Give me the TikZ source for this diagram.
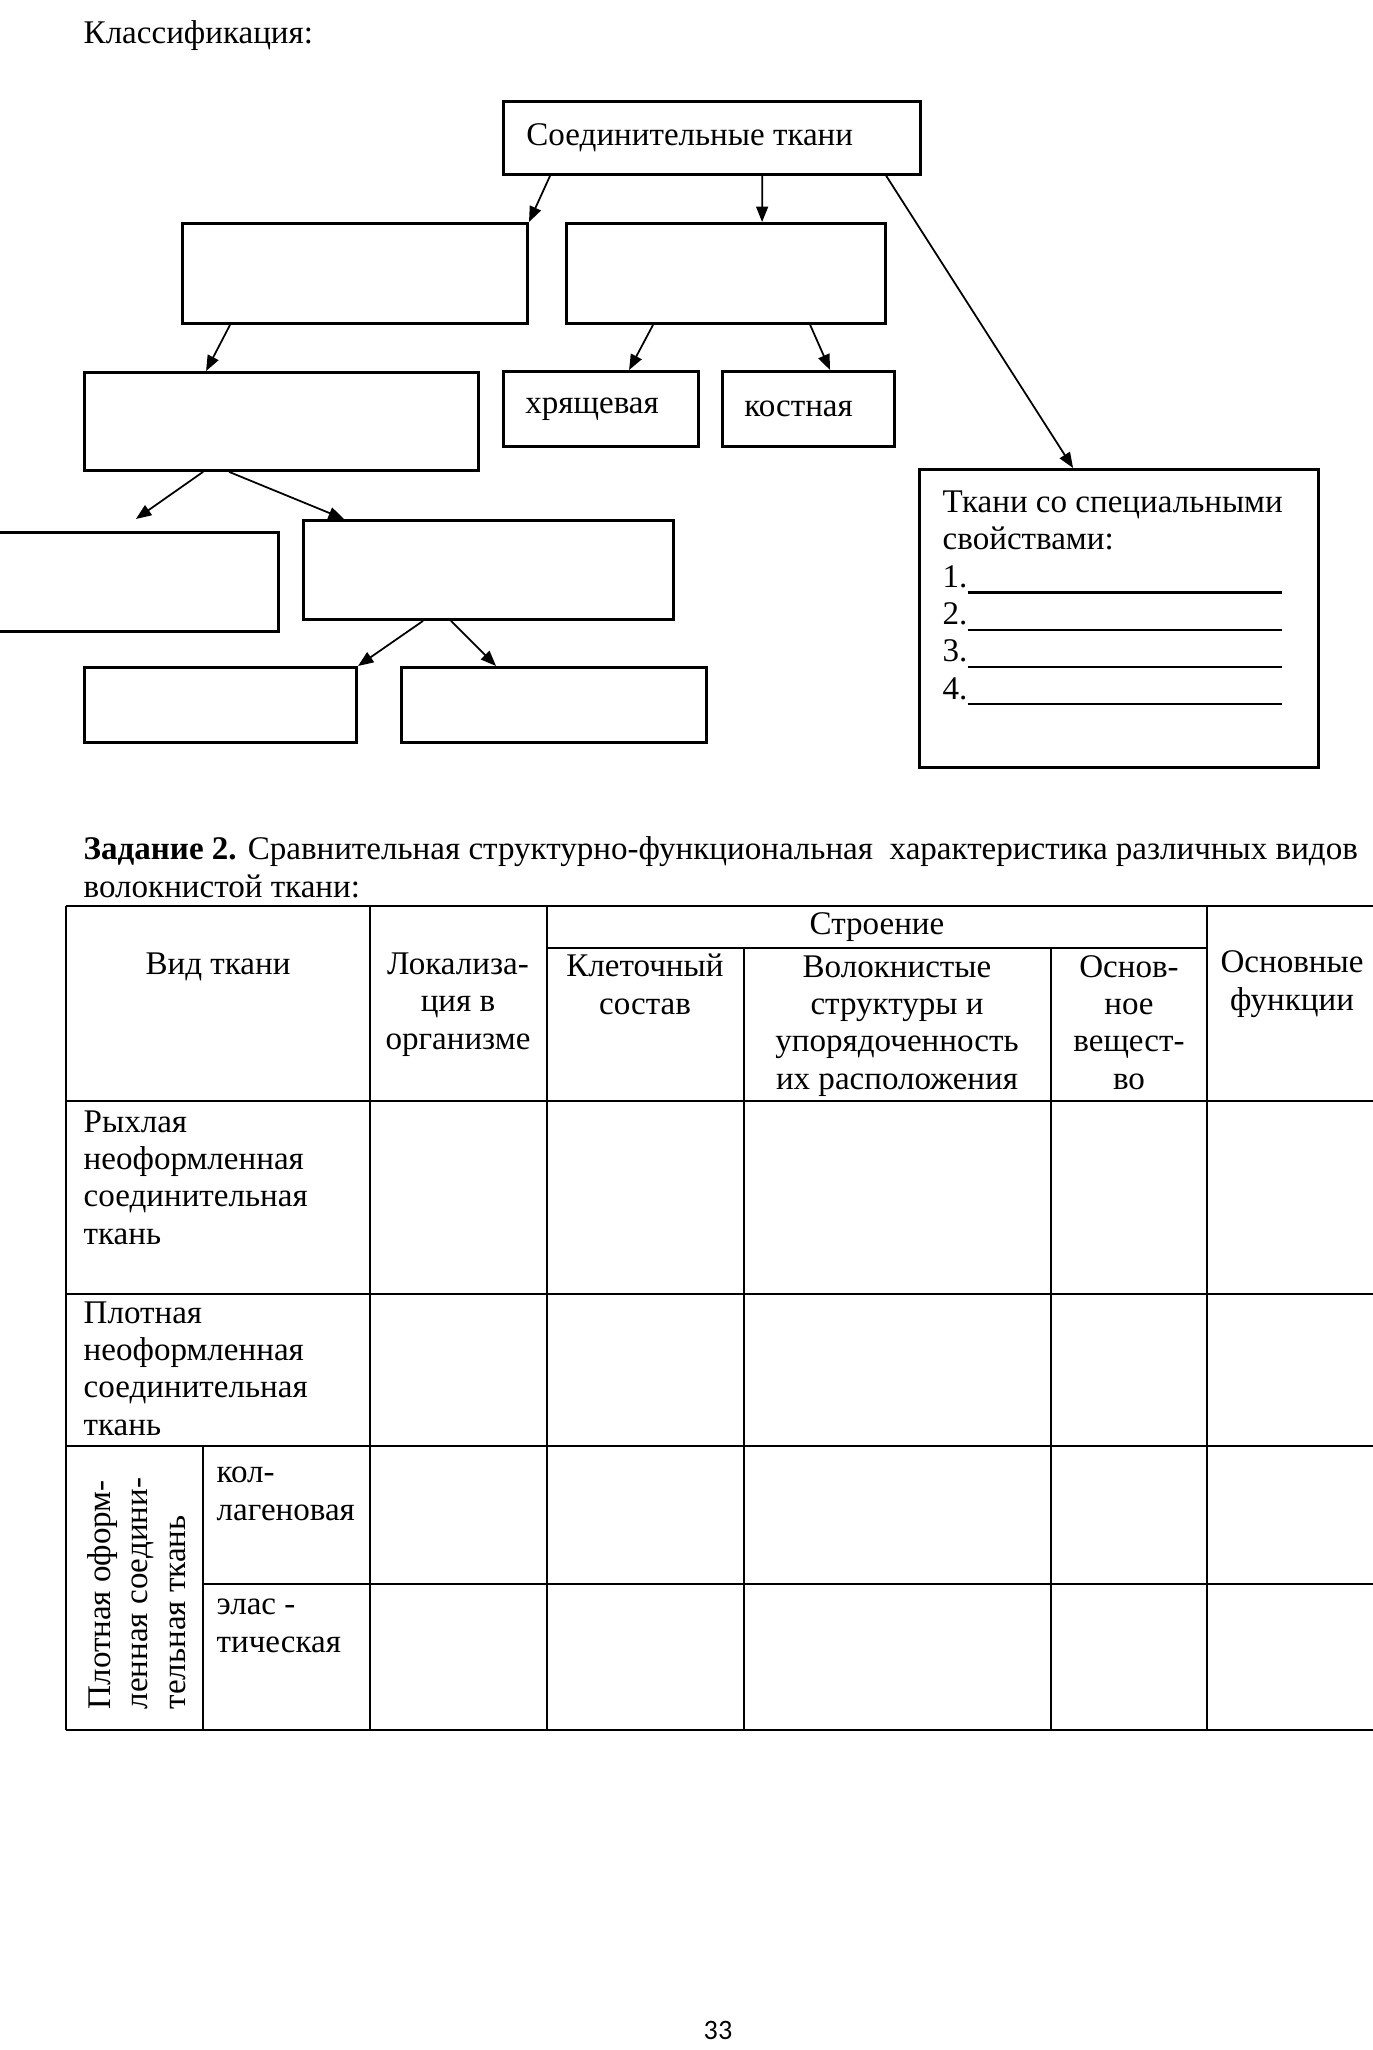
\documentclass[tikz,border=0pt]{standalone}
\usepackage{fontspec}
\setmainfont{Liberation Serif}
\newfontfamily\pagenumfont{Carlito}
\usetikzlibrary{positioning,calc}
\usetikzlibrary{arrows.meta}
\tikzset{
  box/.style={draw=black,line width=0.8pt,anchor=north west,inner sep=0pt},
  edge/.style={draw=black,line width=0.5pt,-{Triangle[length=4.4pt,width=3.4pt]}},
  grid/.style={draw=black,line width=0.6pt},
  txt/.style={inner sep=0pt,font=\fontsize{9.4}{10.6}\selectfont},
}
\begin{document}
\begin{tikzpicture}[x=0.01cm,y=-0.01cm]
\useasboundingbox (0,0) rectangle (1373,2050);
\clip (0,0) rectangle (1373,2050);
\coordinate (p1) at (502,100);
\coordinate (p2) at (181,222);
\coordinate (p3) at (565,222);
\coordinate (p4) at (83,371);
\coordinate (p5) at (502,370);
\coordinate (p6) at (721,370);
\coordinate (p7) at (918,468);
\coordinate (p8) at (-20,531);
\coordinate (p9) at (302,519);
\coordinate (p10) at (83,666);
\coordinate (p11) at (400,666);
\node[txt,anchor=base west] (title) at (83,43) {Классификация:};
\node[box,txt,text width=3.71cm,align=flush left,inner xsep=0.23cm,minimum height=0.73cm] (root) at (p1) {Соединительные ткани};
\node[box,minimum width=3.45cm,minimum height=1.0cm] (boxA) at (p2) {};
\node[box,minimum width=3.19cm,minimum height=1.0cm] (boxB) at (p3) {};
\node[box,minimum width=3.94cm,minimum height=0.98cm] (boxC) at (p4) {};
\node[box,txt,text width=1.51cm,align=flush left,inner xsep=0.22cm,minimum height=0.75cm] (cart) at (p5) {хрящевая};
\node[box,txt,text width=1.28cm,align=flush left,inner xsep=0.22cm,minimum height=0.75cm] (bone) at (p6) {костная};
\node[box,minimum width=3.99cm,minimum height=2.98cm] (spec) at (p7) {};
\node[txt,anchor=base west,align=left] (spectxt) at (942,699) {Ткани со специальными\\свойствами:\\1.\rule[-1.8pt]{3.14cm}{0.6pt}\\2.\rule[-1.8pt]{3.14cm}{0.6pt}\\3.\rule[-1.8pt]{3.14cm}{0.6pt}\\4.\rule[-1.8pt]{3.14cm}{0.6pt}};
\node[box,minimum width=2.97cm,minimum height=0.99cm] (boxD) at (p8) {};
\node[box,minimum width=3.70cm,minimum height=0.99cm] (boxE) at (p9) {};
\node[box,minimum width=2.72cm,minimum height=0.75cm] (boxF) at (p10) {};
\node[box,minimum width=3.05cm,minimum height=0.75cm] (boxG) at (p11) {};
\draw[edge] ([xshift=0.48cm]root.south west) -- (boxA.north east);
\draw[edge] ([xshift=2.60cm]root.south west) -- ([xshift=1.97cm]boxB.north west);
\draw[edge] ([xshift=3.84cm]root.south west) -- ([xshift=1.55cm]spec.north west);
\draw[edge] ([xshift=0.49cm]boxA.south west) -- ([xshift=1.23cm]boxC.north west);
\draw[edge] ([xshift=0.88cm]boxB.south west) -- ([xshift=1.27cm]cart.north west);
\draw[edge] ([xshift=2.45cm]boxB.south west) -- ([xshift=1.09cm]bone.north west);
\draw[edge] ([xshift=1.20cm]boxC.south west) -- ([xshift=-1.44cm,yshift=0.12cm]boxD.north east);
\draw[edge] ([xshift=1.46cm]boxC.south west) -- ([xshift=0.42cm]boxE.north west);
\draw[edge] ([xshift=1.21cm]boxE.south west) -- (boxF.north east);
\draw[edge] ([xshift=1.49cm]boxE.south west) -- ([xshift=0.96cm]boxG.north west);
\node[txt,anchor=base west,align=left] (task) at (83,897) {\textbf{Задание 2.} Сравнительная структурно-функциональная\ \ характеристика различных видов\\волокнистой ткани:};
\foreach \y in {906,1101,1294,1446,1730} \draw[grid] (66,\y) -- (1380,\y);
\draw[grid] (547,948) -- (1207,948);
\draw[grid] (203,1584) -- (1380,1584);
\foreach \x in {66,370,547,1207} \draw[grid] (\x,906) -- (\x,1730);
\foreach \x in {744,1051} \draw[grid] (\x,948) -- (\x,1730);
\draw[grid] (203,1446) -- (203,1730);
\node[txt,anchor=base] (vid) at (218,974) {Вид ткани};
\node[txt,anchor=base,align=center] (loc) at (458,1049) {Локализа-\\ция в\\организме};
\node[txt,anchor=base] (build) at (877,934) {Строение};
\node[txt,anchor=base,align=center] (cell) at (645,1014) {Клеточный\\состав};
\node[txt,anchor=base,align=center] (fib) at (897,1089) {Волокнистые\\структуры и\\упорядоченность\\их расположения};
\node[txt,anchor=base,align=center] (subst) at (1129,1089) {Основ-\\ное\\вещест-\\во};
\node[txt,anchor=base,align=center] (func) at (1292,1010) {Основные\\функции};
\node[txt,anchor=base west,align=left] (loose) at (83,1244) {Рыхлая\\неоформленная\\соединительная\\ткань};
\node[txt,anchor=base west,align=left] (dense) at (83,1435) {Плотная\\неоформленная\\соединительная\\ткань};
\node[txt,rotate=90,anchor=base west,align=left] (regular) at (185,1710) {Плотная оформ-\\ленная соедини-\\тельная ткань};
\node[txt,anchor=base west,align=left] (coll) at (216,1520) {кол-\\лагеновая};
\node[txt,anchor=base west,align=left] (elast) at (216,1652) {элас -\\тическая};
\node[inner sep=0pt,font=\pagenumfont\fontsize{8}{9}\selectfont] (pnum) at (718,2030) {33};
\end{tikzpicture}
\end{document}
